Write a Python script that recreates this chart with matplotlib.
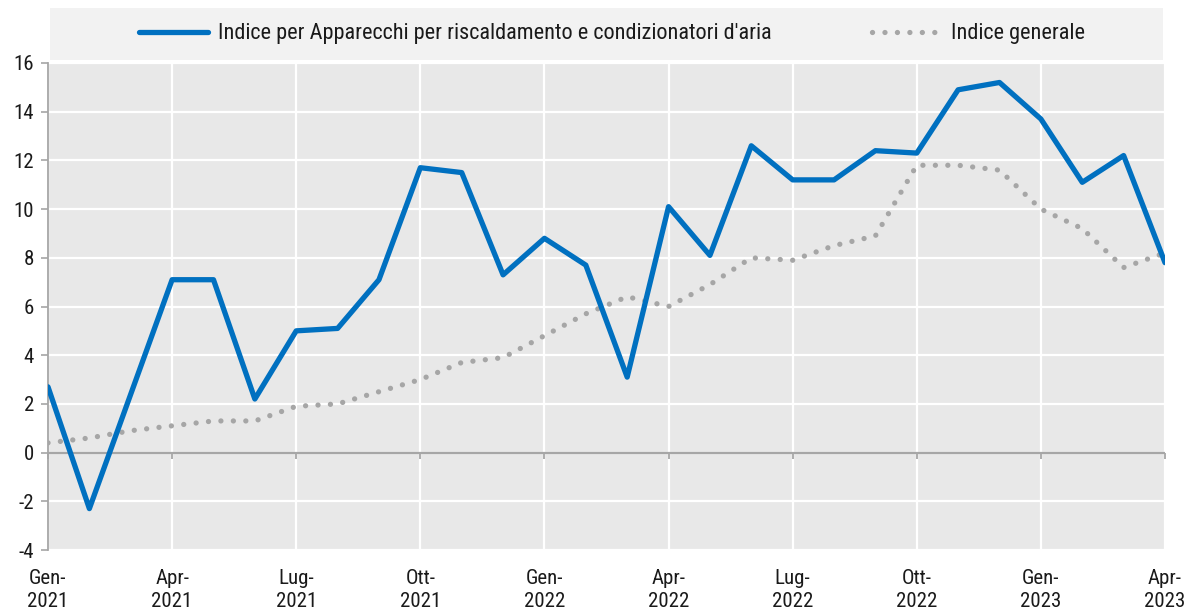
import numpy as np
import matplotlib
matplotlib.use("Agg")
import matplotlib.pyplot as plt
from matplotlib.patches import Rectangle
from matplotlib import font_manager as fm

# choose a narrow sans font if one is installed
_names = {f.name for f in fm.fontManager.ttflist}
_narrow = [n for n in ['Liberation Sans Narrow', 'Arial Narrow', 'Roboto Condensed',
                       'Open Sans Condensed', 'Noto Sans Condensed', 'Lato Condensed']
           if n in _names]
if not _narrow:
    _narrow = sorted(n for n in _names if ('Narrow' in n or 'Condensed' in n))
if _narrow:
    FAMILY = [_narrow[0], 'Liberation Sans', 'DejaVu Sans']
    TICK_FS, LEG_FS = 15, 16
else:
    FAMILY = ['Liberation Sans', 'DejaVu Sans']
    TICK_FS, LEG_FS = 14, 14.5
plt.rcParams['font.family'] = FAMILY

# Data (monthly, Gen-2021 .. Apr-2023)
serie_apparecchi = [2.7, -2.3, 2.4, 7.1, 7.1, 2.2, 5.0, 5.1, 7.1, 11.7, 11.5, 7.3,
                    8.8, 7.7, 3.1, 10.1, 8.1, 12.6, 11.2, 11.2, 12.4, 12.3, 14.9, 15.2,
                    13.7, 11.1, 12.2, 7.8]
serie_generale = [0.4, 0.6, 0.9, 1.1, 1.3, 1.3, 1.9, 2.0, 2.5, 3.0, 3.7, 3.9,
                  4.8, 5.7, 6.4, 6.0, 6.9, 8.0, 7.9, 8.5, 8.9, 11.8, 11.8, 11.6,
                  10.0, 9.2, 7.6, 8.2]
tick_labels = ["Gen-\n2021", "Apr-\n2021", "Lug-\n2021", "Ott-\n2021",
               "Gen-\n2022", "Apr-\n2022", "Lug-\n2022", "Ott-\n2022",
               "Gen-\n2023", "Apr-\n2023"]
y_ticks = [-4, -2, 0, 2, 4, 6, 8, 10, 12, 14, 16]
label_apparecchi = "Indice per Apparecchi per riscaldamento e condizionatori d'aria"
label_generale = "Indice generale"

x = np.arange(len(serie_apparecchi))
tick_pos = np.arange(0, len(serie_apparecchi), 3)

fig = plt.figure(figsize=(11.92, 6.12), dpi=100)
ax = fig.add_axes([48/1192, 62/612, (1165-48)/1192, (550-63)/612])
ax.set_facecolor('#e8e8e8')

# legend band
fig.patches.append(Rectangle((50/1192, 1-60/612), (1163-50)/1192, 52/612,
                             transform=fig.transFigure, facecolor='#f2f2f2',
                             edgecolor='none', zorder=0))

ax.set_xlim(0, len(x) - 1)
ax.set_ylim(-4, 16)
ax.set_yticks(y_ticks)
ax.set_yticklabels([str(v) for v in y_ticks])
ax.set_xticks(tick_pos)
ax.set_xticklabels(tick_labels, linespacing=1.25)

ax.grid(True, color='white', linewidth=1.6)
ax.set_axisbelow(True)

for s in ['top', 'right', 'bottom']:
    ax.spines[s].set_visible(False)
ax.spines['left'].set_color('#a6a6a6')
ax.spines['left'].set_linewidth(1.3)

ax.tick_params(axis='y', length=5, width=1.2, color='#a6a6a6', labelsize=TICK_FS, pad=5,
               labelcolor='#1a1a1a')
ax.tick_params(axis='x', length=0, labelsize=TICK_FS, pad=14, labelcolor='#1a1a1a')

# zero line with tick marks
ax.axhline(0, color='#a6a6a6', linewidth=1.6, zorder=1.5)
ax.vlines(tick_pos, -0.28, 0, color='#a6a6a6', linewidth=1.3, zorder=1.5, clip_on=False)

ax.plot(x, serie_generale, color='#a6a6a6', linewidth=3.8,
        linestyle=(0, (0.01, 2.35)), dash_capstyle='round', label=label_generale, zorder=3)
ax.plot(x, serie_apparecchi, color='#0070c0', linewidth=3.8, solid_joinstyle='round',
        solid_capstyle='round', label=label_apparecchi, zorder=4)

h, l = ax.get_legend_handles_labels()
leg = fig.legend([h[1], h[0]], [l[1], l[0]], loc='center',
                 bbox_to_anchor=(612/1192, 1-34/612), ncol=2, frameon=False,
                 fontsize=LEG_FS, handlelength=3.1, handletextpad=0.45, columnspacing=4.5)
for t in leg.get_texts():
    t.set_color('#1a1a1a')

fig.savefig('out.png', dpi=100, facecolor='white')
